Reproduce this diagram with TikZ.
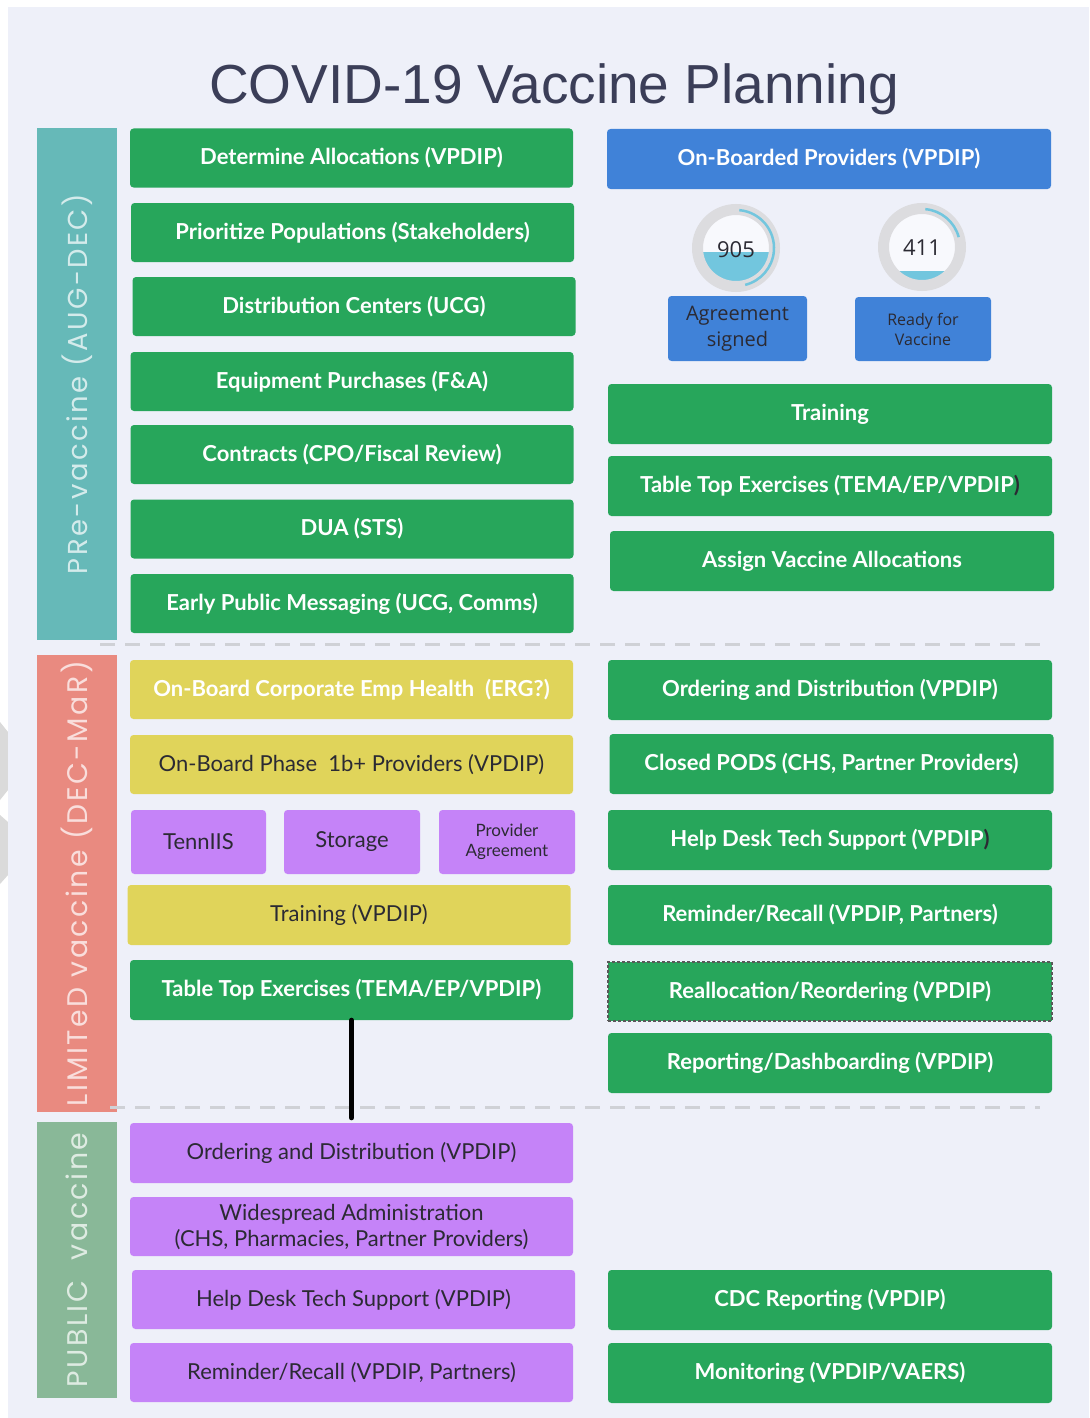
\documentclass[tikz,border=0pt]{standalone}
\usepackage{fontspec}
\setmainfont{Lato}
\newfontfamily\titlefont{Liberation Sans}
\newfontfamily\phasefont{Poppins}[LetterSpace=9]
\newfontfamily\gaugefont{Open Sans}
\definecolor{bgpanel}{HTML}{EEF0F9}
\definecolor{boxgreen}{HTML}{27A65B}
\definecolor{boxyellow}{HTML}{E0D45A}
\definecolor{boxpurple}{HTML}{C583F8}
\definecolor{boxblue}{HTML}{4082D8}
\definecolor{phteal}{HTML}{66B9B8}
\definecolor{phsalmon}{HTML}{E98A80}
\definecolor{phgreen}{HTML}{89B898}
\definecolor{titlecol}{HTML}{3B3E58}
\definecolor{darktext}{HTML}{2B2A33}
\definecolor{ringgray}{HTML}{DCDCDF}
\definecolor{gaugeblue}{HTML}{72C6DE}
\definecolor{dashgray}{HTML}{CFD1D6}
\definecolor{wmgray}{HTML}{DADADA}
\tikzset{
  base/.style={rectangle, rounded corners=3.5pt, inner sep=0pt, align=center, minimum height=59pt},
  wide/.style={base, minimum width=443pt},
  gtxt/.style={font=\bfseries\fontsize{22}{26}\selectfont, text=white},
  dtxt/.style={font=\fontsize{22}{26}\selectfont, text=darktext},
  gbox/.style={wide, fill=boxgreen, gtxt},
  ybox/.style={wide, fill=boxyellow, dtxt},
  pbox/.style={wide, fill=boxpurple, dtxt},
  bbox/.style={wide, fill=boxblue, gtxt},
  phasebar/.style={rectangle, rotate=90, minimum height=80pt, inner sep=0pt},
  sep/.style={dashgray, line width=3pt, dash pattern=on 15pt off 10pt},
  ring/.style={ringgray, line width=11pt},
  ringarc/.style={gaugeblue, line width=2.5pt},
  gnum/.style={font=\gaugefont\fontsize{22}{24}\selectfont, text=darktext},
}
\begin{document}
\begin{tikzpicture}[x=1pt,y=-1pt]
\useasboundingbox (0,0) rectangle (1089,1418);
\fill[white] (0,0) rectangle (1089,1418);
% watermark fragments in the margin
\fill[wmgray] (0,722) -- (8,732) -- (8,790) -- (0,800) -- cycle;
\fill[wmgray] (0,815) -- (8,822) -- (8,875) -- (0,884) -- cycle;
\fill[bgpanel] (8,7) rectangle (1089,1418);

% title
\node[font=\titlefont\fontsize{55}{60}\selectfont, text=titlecol, anchor=base] (title) at (554,104) {COVID-19 Vaccine Planning};

% phase bars
\node[phasebar, fill=phteal, minimum width=512pt] (ph1) at (77,384)
  {\resizebox{380pt}{!}{\phasefont\color{white!72!phteal}PRe-vaccine (AUG-DEC)}};
\node[phasebar, fill=phsalmon, minimum width=457pt] (ph2) at (77,883.5)
  {\resizebox{445pt}{!}{\phasefont\color{white!72!phsalmon}LIMITeD vaccine (DEC-MaR)}};
\node[phasebar, fill=phgreen, minimum width=276pt] (ph3) at (77,1260)
  {\resizebox{255pt}{!}{\phasefont\color{white!72!phgreen}PUBLIC\ \ vaccine}};

% separators
\draw[sep] (100,644) -- (1040,644);
\draw[sep] (110,1107) -- (1040,1107);

% left column
\node[gbox] (l1) at (351.5,158) {Determine Allocations (VPDIP)};
\node[gbox] (l2) at (352.5,232.5) {Prioritize Populations (Stakeholders)};
\node[gbox] (l3) at (354,306.5) {Distribution Centers (UCG)};
\node[gbox] (l4) at (352,381.5) {Equipment Purchases (F\&A)};
\node[gbox] (l5) at (352,454.5) {Contracts (CPO/Fiscal Review)};
\node[gbox] (l6) at (352,529) {DUA (STS)};
\node[gbox] (l7) at (352,603.5) {Early Public Messaging (UCG, Comms)};
\node[ybox, gtxt] (l8) at (351.5,689.5) {On-Board Corporate Emp Health\ \ (ERG?)};
\node[ybox] (l9) at (351.5,764.5) {On-Board Phase\ \ 1b+ Providers (VPDIP)};
\node[pbox, minimum width=135pt, minimum height=64pt] (l10a) at (198.5,842) {TennIIS};
\node[pbox, minimum width=136pt, minimum height=64pt] (l10b) at (352,842) {Storage};
\node[pbox, minimum width=136pt, minimum height=64pt, font=\fontsize{17}{20}\selectfont] (l10c) at (507,842) {Provider\\Agreement};
\node[ybox, minimum height=60pt] (l11) at (349,915) {Training (VPDIP)};
\node[gbox, minimum height=60pt] (ltte) at (351.5,990) {Table Top Exercises (TEMA/EP/VPDIP)};
\node[pbox, minimum height=60pt] (pord) at (351.5,1153) {Ordering and Distribution (VPDIP)};
\node[pbox] (l14) at (351.5,1226.5) {Widespread Administration\\(CHS, Pharmacies, Partner Providers)};
\node[pbox] (l15) at (353.5,1299.5) {Help Desk Tech Support (VPDIP)};
\node[pbox] (l16) at (351.5,1372.5) {Reminder/Recall (VPDIP, Partners)};

% connector
\draw[line width=5pt, line cap=round, shorten >=5pt] (ltte.south) -- (pord.north);

% right column
\node[bbox, minimum width=444pt, minimum height=60pt] (r1) at (829,159) {On-Boarded Providers (VPDIP)};

% gauges
\fill[white!60!bgpanel] (736,248) circle[radius=34];
\begin{scope}
  \clip (736,248) circle[radius=34];
  \fill[gaugeblue] (690,252) rectangle (790,300);
\end{scope}
\draw[ring] (736,248) circle[radius=38.5];
\draw[ringarc] (736,248) ++(-85:38) arc[start angle=-85, end angle=76, radius=38];
\node[gnum] (n905) at (736,250) {905};

\fill[white!60!bgpanel] (922,247) circle[radius=34];
\begin{scope}
  \clip (922,247) circle[radius=34];
  \fill[gaugeblue] (870,271) rectangle (975,300);
\end{scope}
\draw[ring] (922,247) circle[radius=38.5];
\draw[ringarc] (922,247) ++(-85:38) arc[start angle=-85, end angle=-15, radius=38];
\node[gnum] (n411) at (922,248) {411};

\node[bbox, minimum width=139pt, minimum height=65pt, font=\gaugefont\fontsize{20}{26}\selectfont, text=darktext] (agr) at (737.5,328.5) {Agreement\\signed};
\node[bbox, minimum width=136pt, minimum height=64pt, font=\gaugefont\fontsize{16}{20}\selectfont, text=darktext] (rdy) at (923,329) {Ready for\\Vaccine};

\node[gbox, minimum width=444pt, minimum height=60pt] (r2) at (830,414) {Training};
\node[gbox, minimum width=444pt, minimum height=60pt] (r3) at (830,486) {Table Top Exercises (TEMA/EP/VPDIP{\color{darktext})}};
\node[gbox, minimum width=444pt, minimum height=60pt] (r4) at (832,561) {Assign Vaccine Allocations};
\node[gbox, minimum width=444pt, minimum height=60pt] (r5) at (830,690) {Ordering and Distribution (VPDIP)};
\node[gbox, minimum width=444pt, minimum height=60pt] (r6) at (831.5,764) {Closed PODS (CHS, Partner Providers)};
\node[gbox, minimum width=444pt, minimum height=60pt] (r7) at (830,840) {Help Desk Tech Support (VPDIP{\color{darktext})}};
\node[gbox, minimum width=444pt, minimum height=60pt] (r8) at (830,915) {Reminder/Recall (VPDIP, Partners)};
\node[gbox, minimum width=444pt, minimum height=59pt, rounded corners=0pt, draw=black!65, line width=1.5pt, dash pattern=on 3pt off 2pt] (r9) at (830,991.5) {Reallocation/Reordering (VPDIP)};
\node[gbox, minimum width=444pt, minimum height=60pt] (r10) at (830,1063) {Reporting/Dashboarding (VPDIP)};
\node[gbox, minimum width=444pt, minimum height=60pt] (r11) at (830,1300) {CDC Reporting (VPDIP)};
\node[gbox, minimum width=444pt, minimum height=60pt] (r12) at (830,1373) {Monitoring (VPDIP/VAERS)};
\end{tikzpicture}
\end{document}
